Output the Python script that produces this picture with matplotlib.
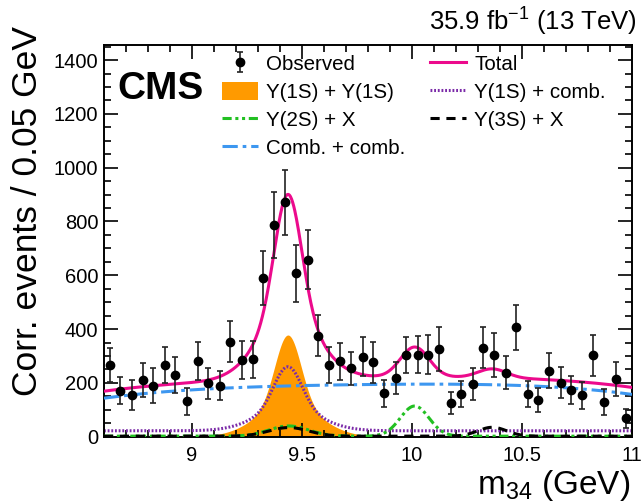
import numpy as np
import matplotlib
matplotlib.use("Agg")
import matplotlib.pyplot as plt
from matplotlib.ticker import MultipleLocator, FormatStrFormatter
from matplotlib.patches import Patch
from matplotlib.lines import Line2D

plt.rcParams["font.family"] = ["Liberation Sans", "DejaVu Sans"]
plt.rcParams["mathtext.fontset"] = "custom"
plt.rcParams["mathtext.rm"] = "Liberation Sans"
plt.rcParams["mathtext.it"] = "Liberation Sans:italic"
plt.rcParams["mathtext.default"] = "regular"

# histogram binning (GeV)
m34_lo, m34_hi, bin_width = 8.6, 11.0, 0.05

# observed corrected events per bin
observed = [266, 171, 156, 210, 190, 266, 228, 132, 281, 198, 190, 353,
            284, 287, 589, 787, 871, 607, 658, 375, 267, 280, 254, 297,
            276, 161, 219, 305, 304, 305, 326, 124, 158, 195, 331, 304,
            238, 407, 158, 136, 245, 201, 174, 154, 302, 129, 216, 68]
observed_err = [62, 50, 56, 63, 64, 68, 67, 50, 70, 57, 55, 76,
                70, 68, 100, 123, 121, 106, 109, 76, 68, 68, 62, 73,
                76, 50, 60, 67, 69, 73, 83, 41, 48, 60, 77, 82,
                62, 83, 49, 45, 65, 59, 52, 51, 77, 48, 63, 34]

# combinatorial + combinatorial background, sampled from the figure
comb_mass = [8.6, 8.8, 9.0, 9.25, 9.5, 9.75, 10.0, 10.25, 10.5, 10.75, 10.9, 11.0]
comb_level = [143, 161, 176, 184, 188, 193, 197, 196, 188, 180, 166, 158]

# Upsilon(1S) peak: position, heights, core/tail widths and core fraction
ups1_mass = 9.436
pair_height, pair_sigma = 378, [0.058, 0.14]
pair_core = 0.68
comb1_base, comb1_height, comb1_sigma = 22, 238, [0.062, 0.14]
comb1_core = 0.65

# Upsilon(2S)+X and Upsilon(3S)+X bumps: (mass, height, width)
ups2_base = 2
ups2_bumps = [(9.44, 38, 0.09), (10.012, 112, 0.065)]
ups3_base = 2
ups3_bumps = [(9.44, 32, 0.09), (10.365, 33, 0.065)]


def gauss(x, mu, s):
    return np.exp(-0.5 * ((x - mu) / s) ** 2)


def peak(x, height, sigmas, core):
    return height * (core * gauss(x, ups1_mass, sigmas[0])
                     + (1 - core) * gauss(x, ups1_mass, sigmas[1]))


m = np.linspace(m34_lo, m34_hi, 961)
comb = np.polyval(np.polyfit(comb_mass, comb_level, 4), m)
pair = peak(m, pair_height, pair_sigma, pair_core)
comb1 = comb1_base + peak(m, comb1_height, comb1_sigma, comb1_core)
ups2 = ups2_base + sum(h * gauss(m, mu, s) for mu, h, s in ups2_bumps)
ups3 = ups3_base + sum(h * gauss(m, mu, s) for mu, h, s in ups3_bumps)
total = comb + pair + comb1 + ups2 + ups3

centers = m34_lo + bin_width * (np.arange(len(observed)) + 0.5)

c_total = "#ec0a8c"
c_pair = "#ff9a00"
c_comb1 = "#7b2aa8"
c_ups2 = "#22c022"
c_ups3 = "black"
c_comb = "#3d97f0"

fig = plt.figure(figsize=(6.42, 5.04), dpi=100)
ax = fig.add_axes([104 / 642, 67.3 / 504, 528 / 642, 391.7 / 504])

ax.fill_between(m, 0, pair, color=c_pair, lw=0, zorder=1)
ax.plot(m, comb1, color=c_comb1, lw=2.2, ls=(0, (0.6, 0.6)), zorder=2)
ax.plot(m, ups2, color=c_ups2, lw=2.2, ls=(0, (3, 1.2, 1, 1.2, 1, 1.2)), zorder=3)
ax.plot(m, ups3, color=c_ups3, lw=2.2, ls=(0, (3, 2.2)), zorder=3)
ax.plot(m, comb, color=c_comb, lw=2.2, ls=(0, (5, 1.6, 1.2, 1.6)), zorder=3)
ax.plot(m, total, color=c_total, lw=2.2, zorder=4)
obs = ax.errorbar(centers, observed, yerr=observed_err, fmt="o", color="black",
                  ecolor="#222222", elinewidth=1.2, capsize=2, capthick=1.2,
                  markersize=6, zorder=5)

ax.set_xlim(m34_lo, m34_hi)
ax.set_ylim(0, 1456)
ax.xaxis.set_major_locator(MultipleLocator(0.5))
ax.xaxis.set_minor_locator(MultipleLocator(0.1))
ax.yaxis.set_major_locator(MultipleLocator(200))
ax.yaxis.set_minor_locator(MultipleLocator(50))
ax.xaxis.set_major_formatter(FormatStrFormatter("%g"))
ax.tick_params(which="both", direction="in", top=True, right=True,
               labelsize=14.5, width=1.2)
ax.tick_params(which="major", length=10)
ax.tick_params(which="minor", length=5)
ax.tick_params(axis="x", pad=7)
ax.tick_params(axis="y", pad=4)
for sp in ax.spines.values():
    sp.set_linewidth(1.4)

handles = [
    obs,
    Patch(facecolor=c_pair, edgecolor="none"),
    Line2D([], [], color=c_ups2, lw=2.2, ls=(0, (3, 1.2, 1, 1.2, 1, 1.2))),
    Line2D([], [], color=c_comb, lw=2.2, ls=(0, (5, 1.6, 1.2, 1.6))),
    Line2D([], [], color=c_total, lw=2.2),
    Line2D([], [], color=c_comb1, lw=2.2, ls=(0, (0.6, 0.6))),
    Line2D([], [], color=c_ups3, lw=2.2, ls=(0, (3, 2.2))),
]
labels = ["Observed", "Υ(1S) + Υ(1S)", "Υ(2S) + X", "Comb. + comb.",
          "Total", "Υ(1S) + comb.", "Υ(3S) + X"]
ax.legend(handles, labels, ncol=2, loc="upper left",
          bbox_to_anchor=(222 / 642, 1 - 54 / 504), bbox_transform=fig.transFigure,
          frameon=False, fontsize=14.8, handlelength=1.75, handleheight=1.0,
          handletextpad=0.4, columnspacing=1.2, labelspacing=0.37,
          borderpad=0, borderaxespad=0)

fig.text(117 / 642, 1 - 99 / 504, "CMS", fontsize=28, fontweight="bold",
         ha="left", va="baseline")
fig.text(637 / 642, 1 - 31 / 504, "35.9 fb$^{-1}$ (13 TeV)", fontsize=18.5,
         ha="right", va="baseline")
fig.text(28 / 642, 1 - 211 / 504, "Corr. events / 0.05 GeV", fontsize=25.5,
         rotation=90, ha="center", va="center")
fig.text(630 / 642, 1 - 494 / 504, "m$_{34}$ (GeV)", fontsize=24,
         ha="right", va="baseline")

fig.savefig("out.png", dpi=100)
